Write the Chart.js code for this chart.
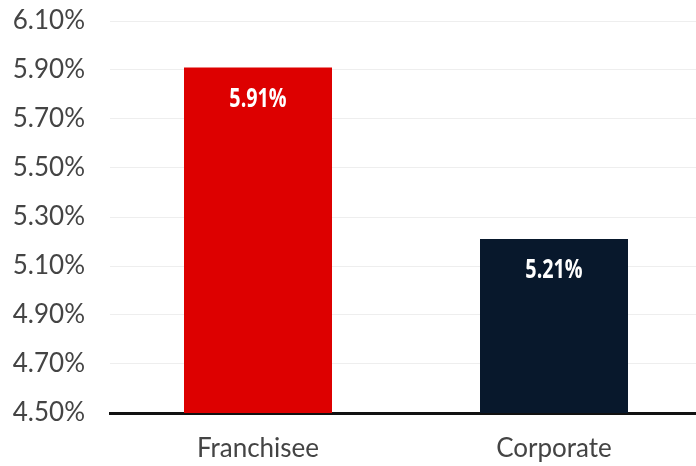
<!DOCTYPE html>
<html>
<head>
<meta charset="utf-8">
<script src="https://cdn.jsdelivr.net/npm/chart.js"></script>
<style>
  html, body { margin: 0; padding: 0; background: #fff; overflow: hidden; }
  /* plot runs a few px past the right edge, like the original */
  #wrap { width: 702px; height: 466px; position: relative; }
</style>
</head>
<body>
<div id="wrap"><canvas id="chart"></canvas></div>
<script>
const categories = ['Franchisee', 'Corporate'];
const values = [5.91, 5.21];
const barColors = ['#dd0000', '#08182c'];
const yTicks = [4.5, 4.7, 4.9, 5.1, 5.3, 5.5, 5.7, 5.9, 6.1];

// white labels inside the bars, a bit under the top edge
const valueLabels = {
    id: 'valueLabels',
    afterDatasetsDraw(chart) {
        const ctx = chart.ctx;
        const meta = chart.getDatasetMeta(0);
        ctx.save();
        ctx.fillStyle = '#ffffff';
        ctx.font = 'bold 26px "Open Sans"';
        ctx.textAlign = 'center';
        ctx.textBaseline = 'middle';
        meta.data.forEach((bar, i) => {
            ctx.save();
            ctx.translate(bar.x, bar.y + 32);
            ctx.scale(0.76, 1);
            ctx.fillText(values[i].toFixed(2) + '%', 0, 0);
            ctx.restore();
        });
        ctx.restore();
    }
};

new Chart(document.getElementById('chart'), {
    type: 'bar',
    data: {
        labels: categories,
        datasets: [{
            data: values,
            backgroundColor: barColors,
            borderWidth: 0,
            barPercentage: 0.5,
            categoryPercentage: 1
        }]
    },
    options: {
        responsive: true,
        maintainAspectRatio: false,
        animation: false,
        layout: { padding: { top: 21, right: 0, left: 0, bottom: 0 } },
        plugins: { legend: { display: false }, tooltip: { enabled: false } },
        scales: {
            x: {
                afterFit: axis => {
                    axis.height = 53;
                    axis.paddingLeft = 0;
                    axis.paddingRight = 0;
                },
                grid: { display: false, drawTicks: false },
                border: { display: true, color: '#111111', width: 3 },
                ticks: { color: '#444444', font: { family: 'Lato', size: 26 }, padding: 20 }
            },
            y: {
                min: 4.5,
                max: 6.1,
                afterBuildTicks: axis => { axis.ticks = yTicks.map(v => ({ value: v })); },
                afterFit: axis => {
                    axis.width = 110;
                    axis.paddingTop = 0;
                    axis.paddingBottom = 0;
                },
                grid: { color: '#eeeeee', lineWidth: 1, drawTicks: false },
                border: { display: false },
                ticks: {
                    color: '#444444',
                    font: { family: 'Lato', size: 26 },
                    padding: 25,
                    callback: v => v.toFixed(2) + '%'
                }
            }
        }
    },
    plugins: [valueLabels]
});
</script>
</body>
</html>
